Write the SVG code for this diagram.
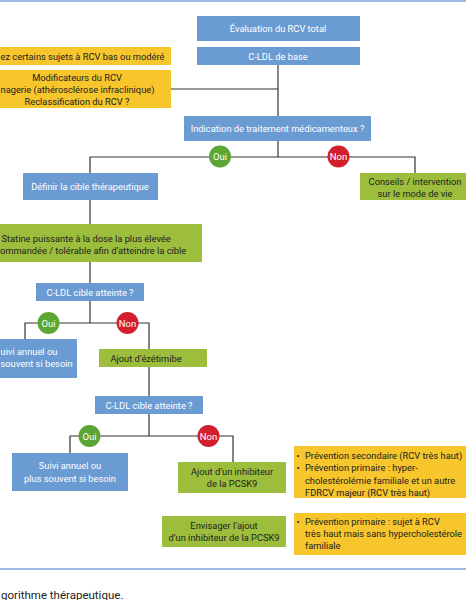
<svg xmlns="http://www.w3.org/2000/svg" width="466" height="600" viewBox="0 0 466 600">
<style>
.b{fill:#6b9bd3}
.g{fill:#9cbe3c}
.y{fill:#f6c62c}
.tw{font-family:Roboto,"Liberation Sans",sans-serif;font-size:9.3px;fill:#fff;text-anchor:middle}
.td{font-family:Roboto,"Liberation Sans",sans-serif;font-size:9.3px;fill:#222;text-anchor:middle}
.ts{font-family:Roboto,"Liberation Sans",sans-serif;font-size:9.3px;fill:#222}
.tws{font-family:Roboto,"Liberation Sans",sans-serif;font-size:9.3px;fill:#fff}
.ln{stroke:#333;stroke-width:1.2;fill:none}
.oui{fill:#5ba634}
.non{fill:#d21f2e}
.tc{font-family:Roboto,"Liberation Sans",sans-serif;font-size:9.5px;fill:#fff;text-anchor:middle}
.frame{stroke:#7da5d8;stroke-width:1.5}
</style>
<rect width="466" height="600" fill="#fff"/>
<line class="frame" x1="0" y1="1" x2="466" y2="1"/>
<line class="frame" x1="0" y1="569" x2="466" y2="569"/>

<g id="connectors">
<path class="ln" d="M278 65V116"/>
<path class="ln" d="M171 89H278"/>
<path class="ln" d="M278 141V157"/>
<path class="ln" d="M90 173V157H415V173"/>
<path class="ln" d="M90 200V224"/>
<path class="ln" d="M90 262V283"/>
<path class="ln" d="M90 301V323"/>
<path class="ln" d="M25 339V323H149V349"/>
<path class="ln" d="M149 367V396"/>
<path class="ln" d="M149 414V436"/>
<path class="ln" d="M70 453V436H233V462"/>
</g>

<g id="n-eval"><rect class="b" x="197" y="16" width="163" height="25"/><text class="tw" x="278" y="32">Évaluation du RCV total</text></g>
<g id="n-cldl"><rect class="b" x="197" y="47" width="163" height="18"/><text class="tw" x="278" y="59.5">C-LDL de base</text></g>
<g id="n-y1"><rect class="y" x="0" y="47" width="171" height="18"/><text class="ts" x="0.5" y="60">ez certains sujets à RCV bas ou modéré</text></g>
<g id="n-y2"><rect class="y" x="0" y="70" width="171" height="38"/>
<text class="td" x="77" y="80.5">Modificateurs du RCV</text>
<text class="ts" x="0.5" y="92.5">nagerie (athérosclérose infraclinique)</text>
<text class="td" x="77" y="104.5">Reclassification du RCV ?</text></g>
<g id="n-ind"><rect class="b" x="184" y="116" width="187" height="25"/><text class="tw" x="277.5" y="132">Indication de traitement médicamenteux ?</text></g>
<g id="c-oui1"><circle class="oui" cx="220" cy="156.5" r="11"/><text class="tc" x="220" y="160">Oui</text></g>
<g id="c-non1"><circle class="non" cx="338.5" cy="156.5" r="11"/><text class="tc" x="338.5" y="160">Non</text></g>
<g id="n-def"><rect class="b" x="23" y="173" width="135" height="27"/><text class="tw" x="90" y="190">Définir la cible thérapeutique</text></g>
<g id="n-cons"><rect class="g" x="360" y="173" width="106" height="27"/><text class="td" x="415" y="185">Conseils / intervention</text><text class="td" x="415" y="197">sur le mode de vie</text></g>
<g id="n-stat"><rect class="g" x="0" y="224" width="202" height="38"/><text class="ts" x="1.5" y="241.5">Statine puissante à la dose la plus élevée</text><text class="ts" x="0" y="253.5">ommandée / tolérable afin d’atteindre la cible</text></g>
<g id="n-cible1"><rect class="b" x="36" y="283" width="108" height="18"/><text class="tw" x="90" y="295.5">C-LDL cible atteinte ?</text></g>
<g id="c-oui2"><circle class="oui" cx="48.5" cy="323" r="11"/><text class="tc" x="48.5" y="326.5">Oui</text></g>
<g id="c-non2"><circle class="non" cx="127.5" cy="323" r="11"/><text class="tc" x="127.5" y="326.5">Non</text></g>
<g id="n-suivi1"><rect class="b" x="0" y="339" width="77" height="39"/><text class="tws" x="0.5" y="355">uivi annuel ou</text><text class="tws" x="0.5" y="367">souvent si besoin</text></g>
<g id="n-eze"><rect class="g" x="99" y="349" width="108" height="18"/><text class="ts" x="110.5" y="362">Ajout d’ézétimibe</text></g>
<g id="n-cible2"><rect class="b" x="95" y="396" width="108" height="18"/><text class="tw" x="149" y="409">C-LDL cible atteinte ?</text></g>
<g id="c-oui3"><circle class="oui" cx="89.5" cy="436" r="11"/><text class="tc" x="89.5" y="439.5">Oui</text></g>
<g id="c-non3"><circle class="non" cx="208.5" cy="436" r="11"/><text class="tc" x="208.5" y="439.5">Non</text></g>
<g id="n-suivi2"><rect class="b" x="12" y="453" width="116" height="38"/><text class="tw" x="70" y="469">Suivi annuel ou</text><text class="tw" x="70" y="481.5">plus souvent si besoin</text></g>
<g id="n-pcsk"><rect class="g" x="178" y="462" width="108" height="31"/><text class="td" x="232" y="475">Ajout d’un inhibiteur</text><text class="td" x="232" y="487">de la PCSK9</text></g>
<g id="n-env"><rect class="g" x="162" y="516" width="124" height="31"/><text class="td" x="224" y="528.5">Envisager l’ajout</text><text class="td" x="224" y="540.5">d’un inhibiteur de la PCSK9</text></g>
<g id="n-y3"><rect class="y" x="294" y="446" width="172" height="52"/>
<text class="ts" x="296.5" y="458.5">•</text><text class="ts" x="305" y="458.5">Prévention secondaire (RCV très haut)</text>
<text class="ts" x="296.5" y="471">•</text><text class="ts" x="305" y="471">Prévention primaire : hyper-</text>
<text class="ts" x="305" y="483.5">cholestérolémie familiale et un autre</text>
<text class="ts" x="305" y="495.5">FDRCV majeur (RCV très haut)</text></g>
<g id="n-y4"><rect class="y" x="294" y="513" width="172" height="42"/>
<text class="ts" x="296.5" y="524.5">•</text><text class="ts" x="305" y="524.5">Prévention primaire : sujet à RCV</text>
<text class="ts" x="305" y="537">très haut mais sans hypercholestérole</text>
<text class="ts" x="305" y="549">familiale</text></g>
<text x="1" y="598.5" font-family="Roboto,'Liberation Sans',sans-serif" font-size="11.5" fill="#222">gorithme thérapeutique.</text>
</svg>
